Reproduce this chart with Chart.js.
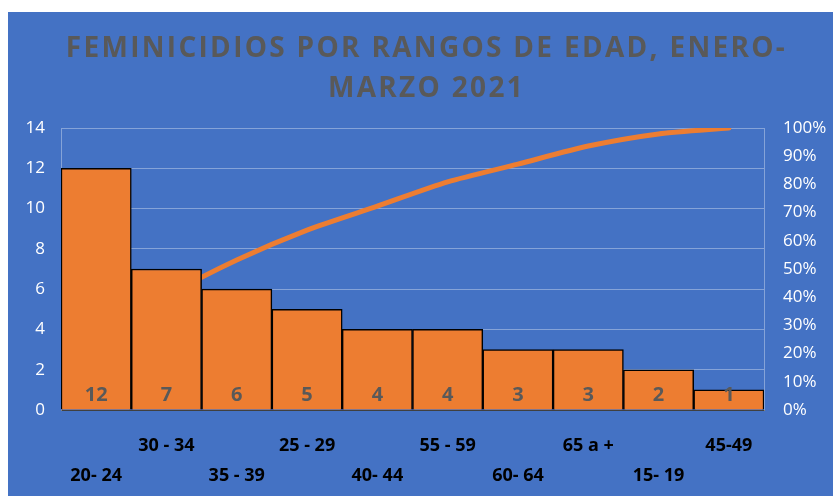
<!DOCTYPE html>
<html>
<head>
<meta charset="utf-8">
<script src="https://cdn.jsdelivr.net/npm/chart.js@4"></script>
<style>
  html, body { margin: 0; padding: 0; background: #fff; }
  #wrap { position: absolute; left: 8px; top: 12px; width: 825px; height: 484px; background: #4472C4; }
</style>
</head>
<body>
<div id="wrap"><canvas id="paretoChart" width="825" height="484"></canvas></div>
<script>
const ageGroups = ['20- 24', '30 - 34', '35 - 39', '25 - 29', '40- 44', '55 - 59', '60- 64', '65 a +', '15- 19', '45-49'];
const victims = [12, 7, 6, 5, 4, 4, 3, 3, 2, 1];
const cumulativePct = [25.5, 40.4, 53.2, 63.8, 72.3, 80.9, 87.2, 93.6, 97.9, 100];

// labels alternate between two rows like the original
const staggered = ageGroups.map((g, i) => i % 2 === 0 ? ['', g] : [g, '']);

const gridColor = 'rgba(255,255,255,0.35)';

const barValueLabels = {
  id: 'barValueLabels',
  afterDatasetsDraw(chart) {
    const ctx = chart.ctx;
    const meta = chart.getDatasetMeta(0);
    ctx.save();
    ctx.font = 'bold 20px "Open Sans"';
    ctx.fillStyle = '#595959';
    ctx.textAlign = 'center';
    ctx.textBaseline = 'middle';
    meta.data.forEach((bar, i) => {
      ctx.fillText(victims[i], bar.x, bar.base - 14);
    });
    ctx.restore();
  }
};

// the title in the original is letter-spaced and sits a bit right of centre
const spacedTitle = {
  id: 'spacedTitle',
  afterLayout(chart) {
    const tb = chart.titleBlock;
    if (!tb || tb._spaced) return;
    const orig = tb.draw.bind(tb);
    tb.draw = function (area) {
      chart.ctx.save();
      chart.ctx.letterSpacing = '2.3px';
      chart.ctx.translate(6, 0);
      orig(area);
      chart.ctx.restore();
    };
    tb._spaced = true;
  }
};

new Chart(document.getElementById('paretoChart'), {
  type: 'bar',
  data: {
    labels: staggered,
    datasets: [{
      type: 'bar',
      data: victims,
      backgroundColor: '#ED7D31',
      borderColor: '#000000',
      borderWidth: 1.5,
      barPercentage: 1,
      categoryPercentage: 1,
      yAxisID: 'y'
    }, {
      type: 'line',
      data: cumulativePct,
      borderColor: '#ED7D31',
      borderWidth: 5,
      borderCapStyle: 'round',
      pointRadius: 0,
      tension: 0.25,
      yAxisID: 'y1'
    }]
  },
  options: {
    responsive: false,
    animation: false,
    layout: { padding: 0 },
    plugins: {
      legend: { display: false },
      tooltip: { enabled: false },
      title: {
        display: true,
        text: ['FEMINICIDIOS POR RANGOS DE EDAD, ENERO-', 'MARZO 2021'],
        color: '#595959',
        font: { family: '"Open Sans"', size: 28, weight: 'bold', lineHeight: 1.4286 },
        padding: { top: 17, bottom: 19 }
      }
    },
    scales: {
      x: {
        grid: { display: false, drawTicks: false },
        border: { display: true, color: '#404040', width: 1 },
        ticks: {
          color: '#000000',
          font: { family: '"Open Sans"', size: 18, weight: 'bold', lineHeight: 1.65 },
          padding: 21,
          maxRotation: 0,
          autoSkip: false
        },
        afterFit(scale) { scale.height = 86; }
      },
      y: {
        position: 'left',
        min: 0,
        max: 14,
        grid: { color: gridColor, drawTicks: false },
        border: { display: true, color: gridColor },
        ticks: {
          stepSize: 2,
          color: '#ffffff',
          font: { family: '"Open Sans"', size: 17 },
          padding: 16
        },
        afterFit(scale) { scale.width = 53; }
      },
      y1: {
        position: 'right',
        min: 0,
        max: 100,
        grid: { display: false, drawTicks: false },
        border: { display: true, color: gridColor },
        ticks: {
          stepSize: 10,
          color: '#ffffff',
          font: { family: '"Open Sans"', size: 17 },
          padding: 19,
          callback: v => v + '%'
        },
        afterFit(scale) { scale.width = 69; }
      }
    }
  },
  plugins: [barValueLabels, spacedTitle]
});
</script>
</body>
</html>
